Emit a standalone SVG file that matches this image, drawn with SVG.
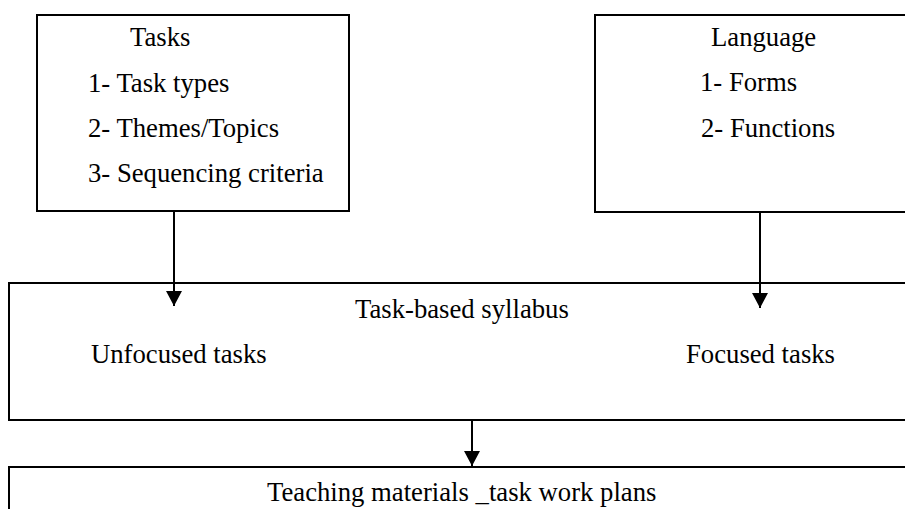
<svg xmlns="http://www.w3.org/2000/svg" width="905" height="509" viewBox="0 0 905 509">
<style>
.box{fill:#fff;stroke:#000;stroke-width:2}
text{font-family:"Liberation Serif","Times New Roman",serif;font-size:26.7px;fill:#000}
.ln{stroke:#000;stroke-width:2;fill:none}
</style>
<defs>
<marker id="ah" markerWidth="16" markerHeight="16" viewBox="0 0 16 16" refX="15" refY="8" orient="auto" markerUnits="userSpaceOnUse">
<path d="M0,0 L15,8 L0,16 Z" fill="#000"/>
</marker>
</defs>
<g id="tasks">
<rect class="box" x="37" y="15" width="312" height="196"/>
<text x="130" y="46">Tasks</text>
<text x="88" y="92">1- Task types</text>
<text x="88" y="137">2- Themes/Topics</text>
<text x="88" y="182">3- Sequencing criteria</text>
</g>
<g id="language">
<rect class="box" x="595" y="15" width="320" height="197"/>
<text x="711" y="46">Language</text>
<text x="700" y="91">1- Forms</text>
<text x="701" y="137">2- Functions</text>
</g>
<g id="syllabus">
<rect class="box" x="9" y="283" width="910" height="137"/>
<text x="355" y="318">Task-based syllabus</text>
<text x="91" y="363">Unfocused tasks</text>
<text x="686" y="363">Focused tasks</text>
</g>
<g id="materials">
<rect class="box" x="9" y="467" width="910" height="60"/>
<text x="267" y="501">Teaching materials _task work plans</text>
</g>
<g id="connectors">
<line class="ln" x1="174" y1="211" x2="174" y2="306" marker-end="url(#ah)"/>
<line class="ln" x1="760" y1="212" x2="760" y2="308" marker-end="url(#ah)"/>
<line class="ln" x1="472" y1="420" x2="472" y2="466" marker-end="url(#ah)"/>
</g>
</svg>
